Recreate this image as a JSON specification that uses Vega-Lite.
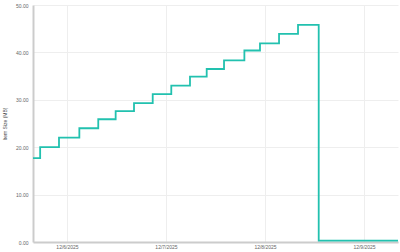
{
  "$schema": "https://vega.github.io/schema/vega-lite/v6.json",
  "width": 365,
  "height": 237,
  "autosize": {"type": "none"},
  "padding": {"left": 33, "top": 5, "right": 2, "bottom": 10},
  "background": "white",
  "config": {
    "view": {"stroke": null},
    "font": "Liberation Sans"
  },
  "data": {
    "values": [
      {"time": "2025-12-05T15:46:00Z", "size": 17.7},
      {"time": "2025-12-05T17:30:00Z", "size": 20.0},
      {"time": "2025-12-05T22:04:00Z", "size": 22.0},
      {"time": "2025-12-06T03:00:00Z", "size": 24.0},
      {"time": "2025-12-06T07:35:00Z", "size": 25.9},
      {"time": "2025-12-06T11:48:00Z", "size": 27.6},
      {"time": "2025-12-06T16:15:00Z", "size": 29.3},
      {"time": "2025-12-06T20:47:00Z", "size": 31.2},
      {"time": "2025-12-07T01:17:00Z", "size": 33.0},
      {"time": "2025-12-07T05:49:00Z", "size": 34.9},
      {"time": "2025-12-07T09:52:00Z", "size": 36.5},
      {"time": "2025-12-07T14:04:00Z", "size": 38.3},
      {"time": "2025-12-07T19:00:00Z", "size": 40.4},
      {"time": "2025-12-07T22:47:00Z", "size": 41.9},
      {"time": "2025-12-08T03:24:00Z", "size": 43.9},
      {"time": "2025-12-08T08:00:00Z", "size": 45.8},
      {"time": "2025-12-08T13:01:00Z", "size": 0.3},
      {"time": "2025-12-09T08:14:00Z", "size": 0.3}
    ]
  },
  "mark": {"type": "line", "interpolate": "step-after", "color": "#22C1AF", "strokeWidth": 1.8, "clip": false},
  "encoding": {
    "x": {
      "field": "time",
      "type": "temporal",
      "scale": {"type": "utc", "domain": ["2025-12-05T15:46:00Z", "2025-12-09T08:14:00Z"]},
      "axis": {
        "title": null,
        "values": ["2025-12-06T00:00:00Z", "2025-12-07T00:00:00Z", "2025-12-08T00:00:00Z", "2025-12-09T00:00:00Z"],
        "labelExpr": "utcFormat(datum.value, '%-m/%-d/%Y')",
        "labelFontSize": 5,
        "labelColor": "#666666",
        "labelPadding": 2,
        "ticks": false,
        "domainColor": "#cccccc",
        "domainWidth": 2,
        "gridColor": "#eeeeee",
        "gridWidth": 1,
        "labelFlush": false
      }
    },
    "y": {
      "field": "size",
      "type": "quantitative",
      "scale": {"domain": [0, 50], "nice": false},
      "axis": {
        "title": "Item Size (MB)",
        "titleFontSize": 5,
        "titleFontWeight": "normal",
        "titleColor": "#444444",
        "titlePadding": 8,
        "values": [0, 10, 20, 30, 40, 50],
        "format": ".2f",
        "labelFontSize": 5,
        "labelColor": "#666666",
        "labelPadding": 5,
        "ticks": false,
        "domainColor": "#cccccc",
        "domainWidth": 2,
        "gridColor": "#eeeeee",
        "gridWidth": 1
      }
    }
  }
}
